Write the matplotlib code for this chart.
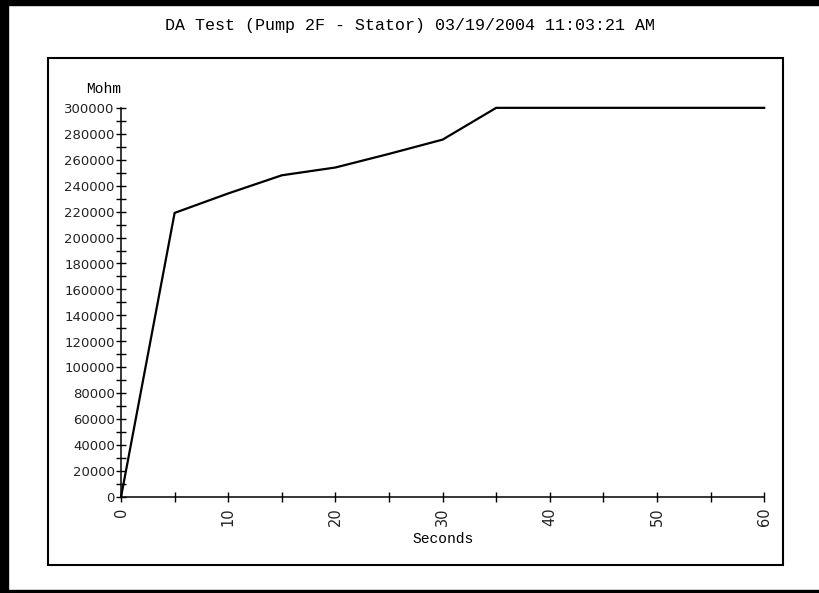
import matplotlib.pyplot as plt
from matplotlib.patches import Rectangle
from matplotlib.ticker import MultipleLocator

# data
seconds = [0, 5, 10, 15, 20, 25, 30, 35, 40, 45, 50, 55, 60]
mohm = [0, 219000, 234000, 248000, 254000, 264500, 275500, 300000,
        300000, 300000, 300000, 300000, 300000]

title = "DA Test (Pump 2F - Stator) 03/19/2004 11:03:21 AM"
x_label = "Seconds"
y_label = "Mohm"

mono = "Liberation Mono"
tick_font = "DejaVu Sans"

W, H = 819, 593
# small nudge so the pixel size doesn't round down to 818
fig = plt.figure(figsize=(W / 100 + 0.002, H / 100 + 0.002), dpi=100)

# outer page frame: heavy left/top edge, thin bottom edge
fig.patches.append(Rectangle((0, 0), 8 / W, 1, transform=fig.transFigure,
                             color="black", zorder=0))
fig.patches.append(Rectangle((0, 1 - 5 / H), 1, 5 / H, transform=fig.transFigure,
                             color="black", zorder=0))
fig.patches.append(Rectangle((0, 1 / H), 1, 2 / H, transform=fig.transFigure,
                             color="black", zorder=0))

# inner chart box
fig.patches.append(Rectangle((48 / W, 1 - 565 / H), (783 - 48) / W, (565 - 58) / H,
                             transform=fig.transFigure, fill=False,
                             edgecolor="black", linewidth=1.5, zorder=1))

fig.text(0.5, 1 - 25 / H, title, ha="center", va="center",
         family=mono, fontsize=12)

ax = fig.add_axes([121 / W, 1 - 497 / H, (764 - 121) / W, (497 - 108) / H])
ax.plot(seconds, mohm, color="black", linewidth=1.6, clip_on=False)

ax.set_xlim(0, 60)
ax.set_ylim(0, 300000)
ax.spines["top"].set_visible(False)
ax.spines["right"].set_visible(False)
for s in ("left", "bottom"):
    ax.spines[s].set_linewidth(1.1)

ax.xaxis.set_major_locator(MultipleLocator(10))
ax.xaxis.set_minor_locator(MultipleLocator(5))
ax.yaxis.set_major_locator(MultipleLocator(20000))
ax.yaxis.set_minor_locator(MultipleLocator(10000))
ax.tick_params(which="both", direction="inout", length=7, width=1, color="black")
ax.tick_params(axis="y", labelsize=9.5, pad=1)
ax.tick_params(axis="x", labelsize=10.5, pad=4, labelrotation=90)
for lab in ax.get_xticklabels() + ax.get_yticklabels():
    lab.set_family(tick_font)
    lab.set_color("#222222")

ax.set_xlabel(x_label, family=mono, fontsize=10.5, labelpad=4)
ax.text(-0.027, 1.05, y_label, transform=ax.transAxes, ha="center", va="center",
        family=mono, fontsize=10.5)

fig.savefig("out.png", dpi=100)
